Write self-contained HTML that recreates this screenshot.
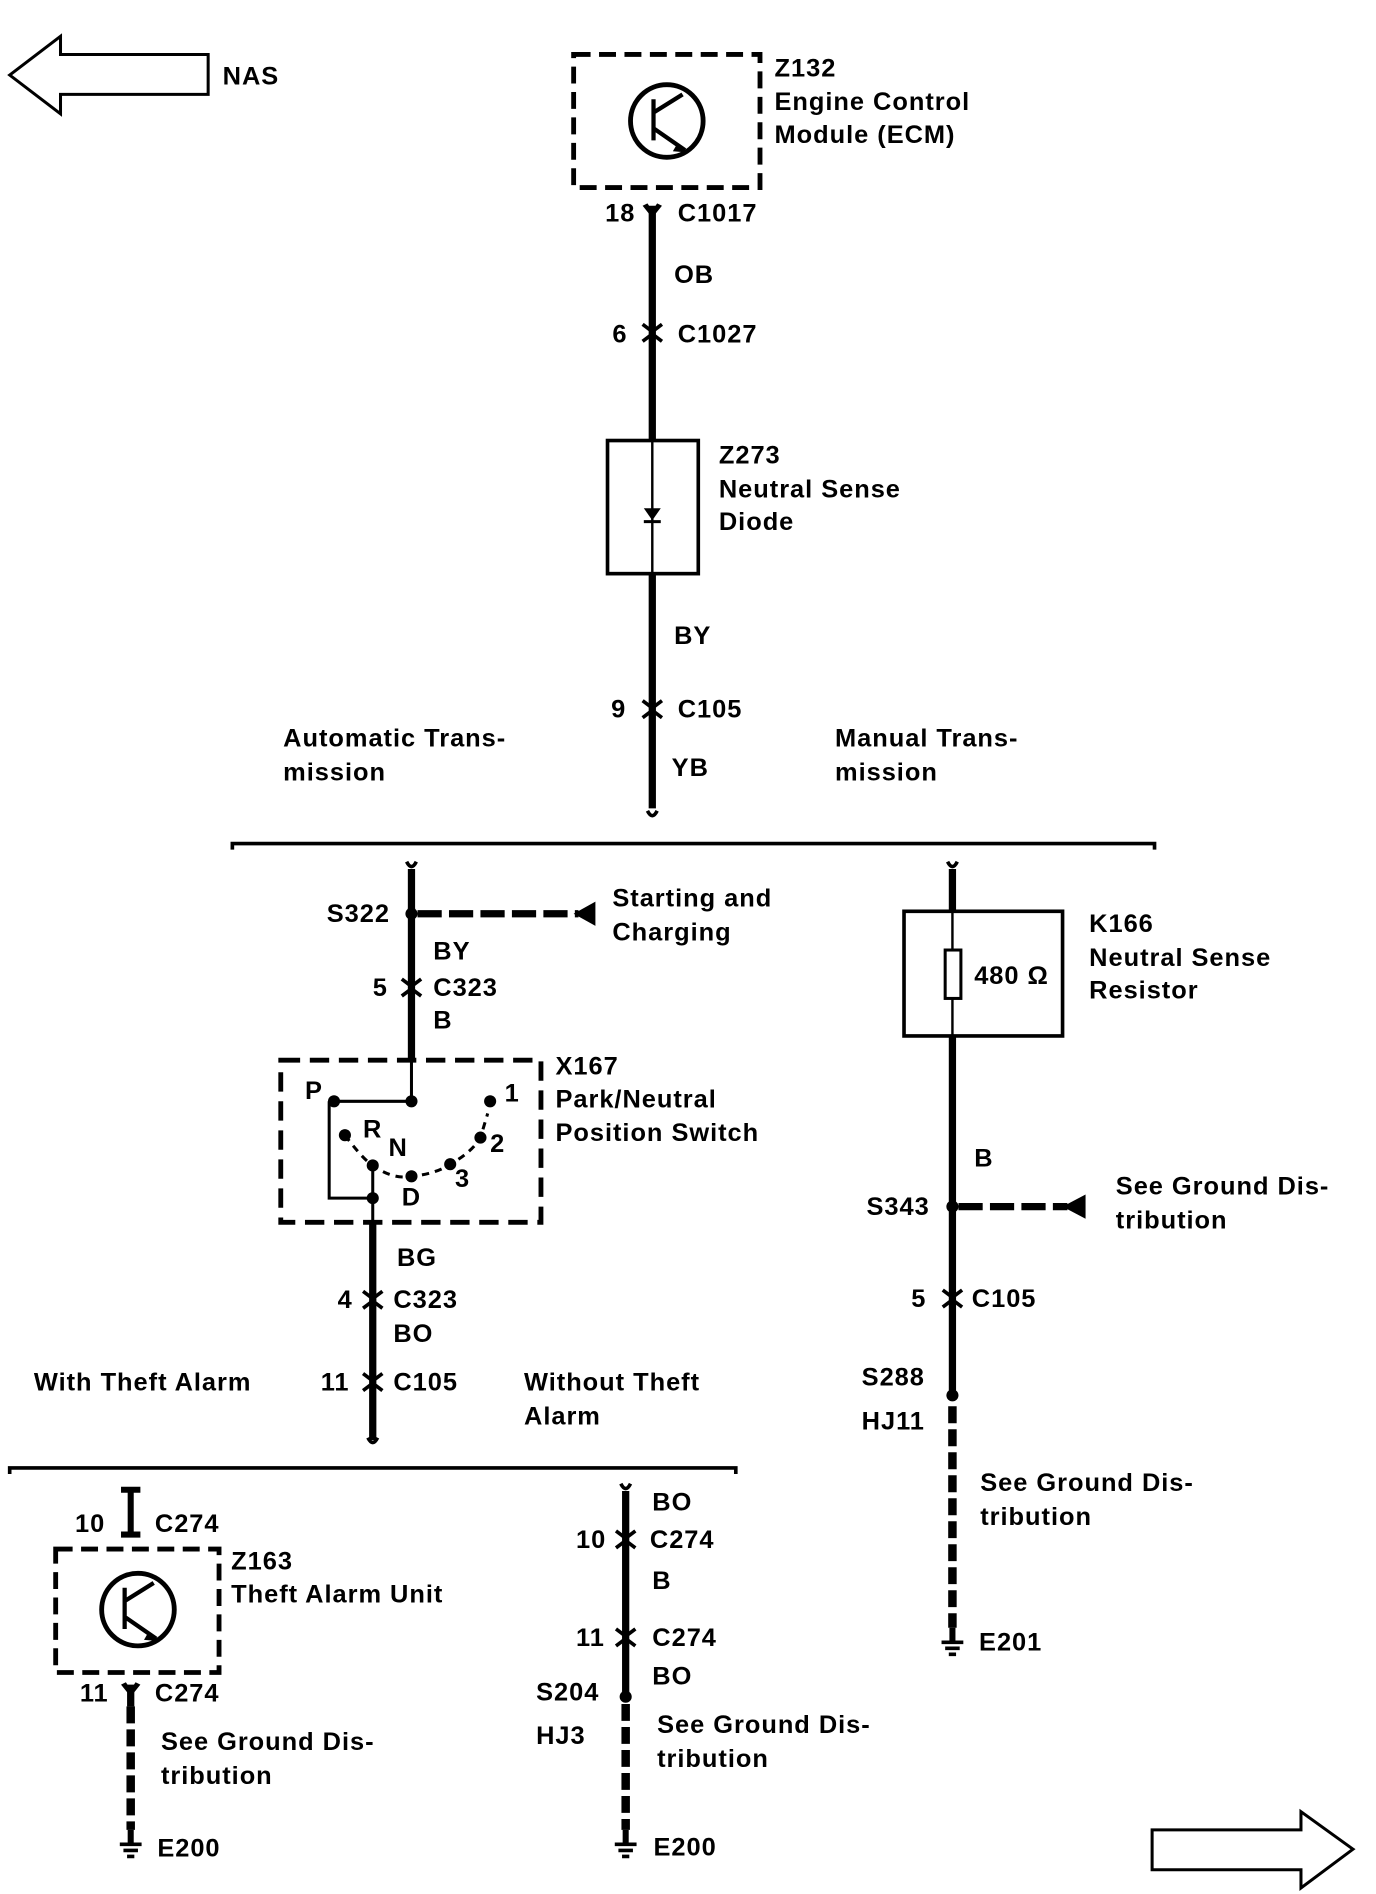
<!DOCTYPE html>
<html><head><meta charset="utf-8"><style>
html,body{margin:0;padding:0;background:#fff}
svg{display:block}
text{font-family:"Liberation Sans",Arial,sans-serif;font-weight:bold;font-size:21px;letter-spacing:0.8px;fill:#000}
</style></head><body>
<svg width="1376" height="1894" viewBox="0 0 1137 1565" xmlns="http://www.w3.org/2000/svg">
<defs>
<g id="conn"><path d="M-8,-7 L0,-1 L8,-7 M-8,7 L0,1 L8,7" stroke="#000" stroke-width="3" fill="none"/></g>
<g id="gnd"><path d="M-9,0 H9 M-6,5 H6 M-3,10 H3" stroke="#000" stroke-width="3"/><line x1="0" y1="-12" x2="0" y2="0" stroke="#000" stroke-width="5"/></g>
<g id="sq"><path d="M-4,-4 Q0,4 4,-4" stroke="#000" stroke-width="3" fill="none"/></g>
</defs>
<g fill="none" stroke="#000">
<path d="M8,62 L50,30 L50,45 L172,45 L172,78 L50,78 L50,94 Z" stroke-width="2.5"/>
<path d="M1118,1528 L1075,1497 L1075,1512 L952,1512 L952,1545 L1075,1545 L1075,1560 Z" stroke-width="2.5"/>
<rect x="474" y="45" width="154" height="110" stroke-width="4" stroke-dasharray="14,7"/>
<circle cx="551" cy="100" r="30" stroke-width="4"/>
<path d="M540,82 V116 M540,93 L564,78 M540,106 L566,124" stroke-width="3.5"/>
<line x1="539" y1="170" x2="539" y2="668" stroke-width="6"/>
<rect x="502" y="364" width="75" height="110" stroke-width="3" fill="#fff"/>
<line x1="539" y1="364" x2="539" y2="474" stroke-width="2"/>
<path d="M192,702 V697 H954 V702" stroke-width="3"/>
<line x1="340" y1="718" x2="340" y2="876" stroke-width="6"/>
<line x1="345" y1="755" x2="478" y2="755" stroke-width="6" stroke-dasharray="20,6"/>
<rect x="232" y="876" width="215" height="134" stroke-width="4" stroke-dasharray="16,8"/>
<path d="M340,876 V910 H276 M272,910 V990 H308 V963" stroke-width="2.5"/>
<path d="M285,938 Q300,958 308,963 Q325,975 340,972 Q360,970 372,962 Q390,952 397,940 L403,920" stroke-width="2.5" stroke-dasharray="6,5"/>
<line x1="308" y1="1010" x2="308" y2="1190" stroke-width="6"/>
<line x1="308" y1="990" x2="308" y2="1010" stroke-width="2.5"/>
<path d="M8,1218 V1213 H608 V1218" stroke-width="3"/>
<path d="M100,1231 H116 M108,1231 V1268 M100,1268 H116" stroke-width="5"/>
<rect x="46" y="1280" width="135" height="102" stroke-width="4" stroke-dasharray="14,7"/>
<circle cx="114" cy="1330" r="30" stroke-width="4"/>
<path d="M103,1312 V1346 M103,1323 L127,1308 M103,1336 L129,1354" stroke-width="3.5"/>
<line x1="108" y1="1392" x2="108" y2="1410" stroke-width="6"/>
<line x1="108" y1="1410" x2="108" y2="1512" stroke-width="7" stroke-dasharray="14,5"/>
<line x1="517" y1="1232" x2="517" y2="1398" stroke-width="6"/>
<line x1="517" y1="1408" x2="517" y2="1512" stroke-width="7" stroke-dasharray="14,5"/>
<line x1="787" y1="718" x2="787" y2="1150" stroke-width="6"/>
<rect x="747" y="753" width="131" height="103" stroke-width="3" fill="#fff"/>
<line x1="787" y1="753" x2="787" y2="785" stroke-width="2"/>
<line x1="787" y1="825" x2="787" y2="856" stroke-width="2"/>
<rect x="781" y="785" width="13" height="40" stroke-width="2.5" fill="#fff"/>
<line x1="792" y1="997" x2="882" y2="997" stroke-width="6" stroke-dasharray="20,6"/>
<line x1="787" y1="1162" x2="787" y2="1345" stroke-width="7" stroke-dasharray="14,5"/>
</g>
<g fill="#000">
<path d="M532,420 L546,420 L539,430 Z"/><line x1="532" y1="431" x2="546" y2="431" stroke="#000" stroke-width="2.5"/>
<path d="M474,755 L492,745 L492,765 Z"/>
<path d="M878,997 L897,987 L897,1007 Z"/>
<path d="M560,118 L568,126 L556,125 Z"/>
<path d="M123,1348 L131,1356 L119,1355 Z"/>
<circle cx="340" cy="755" r="5"/>
<circle cx="340" cy="910" r="5"/><circle cx="276" cy="910" r="5"/>
<circle cx="285" cy="938" r="5"/><circle cx="308" cy="963" r="5"/><circle cx="340" cy="972" r="5"/>
<circle cx="372" cy="962" r="5"/><circle cx="397" cy="940" r="5"/><circle cx="405" cy="910" r="5"/>
<circle cx="308" cy="990" r="5"/>
<circle cx="517" cy="1402" r="5"/>
<circle cx="787" cy="997" r="5"/>
<circle cx="787" cy="1153" r="5"/>
<path d="M531,170 L539,180 L547,170 L543,168 L539,174 L535,168 Z"/>
<path d="M100,1392 L108,1402 L116,1392 L112,1390 L108,1396 L104,1390 Z"/>
</g>
<use href="#conn" x="539" y="275"/><use href="#conn" x="539" y="586"/>
<use href="#conn" x="340" y="816"/><use href="#conn" x="308" y="1074"/><use href="#conn" x="308" y="1142"/>
<use href="#conn" x="517" y="1272"/><use href="#conn" x="517" y="1353"/><use href="#conn" x="787" y="1073"/>
<use href="#sq" x="539" y="674"/><use href="#sq" x="340" y="716"/><use href="#sq" x="787" y="716"/>
<use href="#sq" x="308" y="1192"/><use href="#sq" x="517" y="1230"/>
<use href="#gnd" x="108" y="1524"/><use href="#gnd" x="517" y="1524"/><use href="#gnd" x="787" y="1357"/>
<text x="184" y="70">NAS</text>
<text x="640" y="63">Z132</text><text x="640" y="91">Engine Control</text><text x="640" y="118">Module (ECM)</text>
<text x="500" y="183">18</text><text x="560" y="183">C1017</text>
<text x="557" y="234">OB</text>
<text x="506" y="283">6</text><text x="560" y="283">C1027</text>
<text x="594" y="383">Z273</text><text x="594" y="411">Neutral Sense</text><text x="594" y="438">Diode</text>
<text x="557" y="532">BY</text>
<text x="505" y="593">9</text><text x="560" y="593">C105</text>
<text x="555" y="641">YB</text>
<text x="234" y="617">Automatic Trans-</text><text x="234" y="645">mission</text>
<text x="690" y="617">Manual Trans-</text><text x="690" y="645">mission</text>
<text x="270" y="762">S322</text>
<text x="506" y="749">Starting and</text><text x="506" y="777">Charging</text>
<text x="358" y="793">BY</text>
<text x="308" y="823">5</text><text x="358" y="823">C323</text><text x="358" y="850">B</text>
<text x="252" y="908">P</text><text x="300" y="940">R</text><text x="321" y="955">N</text>
<text x="332" y="996">D</text><text x="376" y="981">3</text><text x="405" y="952">2</text><text x="417" y="910">1</text>
<text x="459" y="888">X167</text><text x="459" y="915">Park/Neutral</text><text x="459" y="943">Position Switch</text>
<text x="328" y="1046">BG</text>
<text x="279" y="1081">4</text><text x="325" y="1081">C323</text><text x="325" y="1109">BO</text>
<text x="28" y="1149">With Theft Alarm</text>
<text x="265" y="1149">11</text><text x="325" y="1149">C105</text>
<text x="433" y="1149">Without Theft</text><text x="433" y="1177">Alarm</text>
<text x="62" y="1266">10</text><text x="128" y="1266">C274</text>
<text x="191" y="1297">Z163</text><text x="191" y="1324">Theft Alarm Unit</text>
<text x="66" y="1406">11</text><text x="128" y="1406">C274</text>
<text x="133" y="1446">See Ground Dis-</text><text x="133" y="1474">tribution</text>
<text x="130" y="1534">E200</text>
<text x="539" y="1248">BO</text>
<text x="476" y="1279">10</text><text x="537" y="1279">C274</text>
<text x="539" y="1313">B</text>
<text x="476" y="1360">11</text><text x="539" y="1360">C274</text>
<text x="539" y="1392">BO</text>
<text x="443" y="1405">S204</text><text x="443" y="1441">HJ3</text>
<text x="543" y="1432">See Ground Dis-</text><text x="543" y="1460">tribution</text>
<text x="540" y="1533">E200</text>
<text x="900" y="770">K166</text><text x="900" y="798">Neutral Sense</text><text x="900" y="825">Resistor</text>
<text x="805" y="813">480 Ω</text>
<text x="805" y="964">B</text>
<text x="716" y="1004">S343</text>
<text x="922" y="987">See Ground Dis-</text><text x="922" y="1015">tribution</text>
<text x="753" y="1080">5</text><text x="803" y="1080">C105</text>
<text x="712" y="1145">S288</text><text x="712" y="1181">HJ11</text>
<text x="810" y="1232">See Ground Dis-</text><text x="810" y="1260">tribution</text>
<text x="809" y="1364">E201</text>
</svg>
</body></html>
